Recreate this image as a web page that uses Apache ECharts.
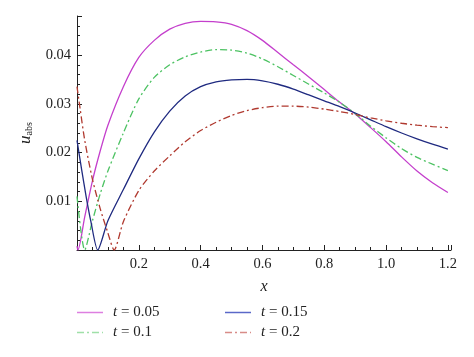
<!DOCTYPE html>
<html>
<head>
<meta charset="utf-8">
<script src="https://cdn.jsdelivr.net/npm/echarts@6/dist/echarts.min.js"></script>
<style>html,body{margin:0;padding:0;background:#fff;}#c{width:474px;height:357px;}</style>
</head>
<body>
<div id="c"></div>
<script>
const seriesNames = ['t = 0.05', 't = 0.1', 't = 0.15', 't = 0.2'];

const x005 = [0, 0.003, 0.025, 0.05, 0.075, 0.1, 0.15, 0.2, 0.25, 0.3, 0.35, 0.4, 0.45, 0.5, 0.55, 0.6, 0.65, 0.7, 0.75, 0.8, 0.85, 0.9, 0.95, 1.0, 1.05, 1.1, 1.15, 1.2];
const y005 = [0.0008, 0, 0.0068, 0.0142, 0.0203, 0.0256, 0.0335, 0.0395, 0.0430, 0.0453, 0.0465, 0.0469, 0.0468, 0.0463, 0.0450, 0.0430, 0.0405, 0.0380, 0.0355, 0.0329, 0.0303, 0.0279, 0.0251, 0.0222, 0.0191, 0.0162, 0.0138, 0.0118];

const x010 = [0, 0.025, 0.05, 0.075, 0.1, 0.15, 0.2, 0.25, 0.3, 0.35, 0.4, 0.45, 0.5, 0.55, 0.6, 0.65, 0.7, 0.75, 0.8, 0.85, 0.9, 0.95, 1.0, 1.05, 1.1, 1.15, 1.2];
const y010 = [0.011, 0, 0.006, 0.0115, 0.0162, 0.0240, 0.0310, 0.0354, 0.0380, 0.0396, 0.0406, 0.0411, 0.0410, 0.0404, 0.0392, 0.0376, 0.0358, 0.0340, 0.0322, 0.0303, 0.0280, 0.0254, 0.0230, 0.0208, 0.0190, 0.0176, 0.0163];

const x015 = [0, 0.015, 0.03, 0.045, 0.067, 0.1, 0.15, 0.2, 0.25, 0.3, 0.35, 0.4, 0.45, 0.5, 0.55, 0.6, 0.65, 0.7, 0.75, 0.8, 0.85, 0.9, 0.95, 1.0, 1.05, 1.1, 1.15, 1.2];
const y015 = [0.0225, 0.0165, 0.0108, 0.0058, 0, 0.0060, 0.0124, 0.0187, 0.0242, 0.0285, 0.0316, 0.0335, 0.0345, 0.0349, 0.0350, 0.0347, 0.0340, 0.0330, 0.0318, 0.0306, 0.0294, 0.0281, 0.0267, 0.0253, 0.0240, 0.0228, 0.0217, 0.0207];

const x020 = [0, 0.01, 0.025, 0.05, 0.075, 0.1, 0.12, 0.15, 0.2, 0.25, 0.3, 0.35, 0.4, 0.45, 0.5, 0.55, 0.6, 0.65, 0.7, 0.75, 0.8, 0.85, 0.9, 0.95, 1.0, 1.05, 1.1, 1.15, 1.2];
const y020 = [0.0335, 0.029, 0.0225, 0.0145, 0.0085, 0.0035, 0, 0.0058, 0.0122, 0.0162, 0.0193, 0.0222, 0.0245, 0.0262, 0.0276, 0.0286, 0.0292, 0.0295, 0.0295, 0.0293, 0.0289, 0.0284, 0.0278, 0.0271, 0.0265, 0.0260, 0.0256, 0.0253, 0.0251];

const seriesX = [x005, x010, x015, x020];
const seriesY = [y005, y010, y015, y020];

const colors = ['#c43fcc', '#4cc262', '#1f2a80', '#b0392f'];
const legendColors = ['#dd7fe0', '#9fe0a8', '#5a68c8', '#d88c88'];
const dashes = ['solid', [7, 3, 2, 3], 'solid', [7, 3, 2, 3]];
const SOLID_ICON = 'path://M0,0h26v1.5h-26z';
const DASHDOT_ICON = 'path://M0,0h7v1.5h-7z M10,0h2v1.5h-2z M15,0h7v1.5h-7z M25,0h1v1.5h-1z';
const legendIcons = [SOLID_ICON, DASHDOT_ICON, SOLID_ICON, DASHDOT_ICON];

const FONT = '"Liberation Serif", "DejaVu Serif", serif';

function zip(xs, ys) { return xs.map((x, i) => [x, ys[i]]); }

const series = seriesNames.map((n, i) => ({
  name: n,
  type: 'line',
  data: zip(seriesX[i], seriesY[i]),
  symbol: 'none',
  showSymbol: false,
  smooth: 0.25,
  lineStyle: { color: colors[i], width: 1.3, type: dashes[i] },
  itemStyle: { color: colors[i] },
  animation: false
}));

const legendRich = {
  i: { fontFamily: FONT, fontStyle: 'italic', fontSize: 15, color: '#222', padding: [0, 0, 0, 5] },
  n: { fontFamily: FONT, fontSize: 15, color: '#222' }
};
function legendFmt(name) { return '{i|t}{n|' + name.slice(1) + '}'; }
function legendItem(i) {
  return { name: seriesNames[i], icon: legendIcons[i], itemStyle: { color: legendColors[i], borderWidth: 0 } };
}

const chart = echarts.init(document.getElementById('c'), null, { renderer: 'canvas' });
chart.setOption({
  backgroundColor: '#fff',
  animation: false,
  grid: { left: 77, top: 16, right: 23, bottom: 107, containLabel: false },
  legend: [
    { data: [legendItem(0), legendItem(1)], orient: 'vertical', left: 72, top: 300, itemWidth: 26, itemHeight: 14, itemGap: 5, symbolKeepAspect: true, formatter: legendFmt, textStyle: { rich: legendRich }, selectedMode: false },
    { data: [legendItem(2), legendItem(3)], orient: 'vertical', left: 220, top: 300, itemWidth: 26, itemHeight: 14, itemGap: 5, symbolKeepAspect: true, formatter: legendFmt, textStyle: { rich: legendRich }, selectedMode: false }
  ],
  xAxis: {
    type: 'value', min: 0, max: 1.21, interval: 0.2,
    name: 'x', nameLocation: 'middle', nameGap: 29,
    nameTextStyle: { fontFamily: FONT, fontStyle: 'italic', fontSize: 16, color: '#222' },
    axisLine: { show: true, onZero: false, lineStyle: { color: '#222', width: 1 } },
    axisTick: { show: true, inside: true, length: 5, lineStyle: { color: '#222' } },
    minorTick: { show: true, splitNumber: 4, length: 3, lineStyle: { color: '#222' } },
    splitLine: { show: false },
    axisLabel: { showMinLabel: false, showMaxLabel: false, fontFamily: FONT, fontSize: 14.5, color: '#222', margin: 7,
      formatter: v => v.toFixed(1) }
  },
  yAxis: {
    type: 'value', min: 0, max: 0.048, interval: 0.01,
    name: '{u|u}{s|abs}', nameLocation: 'middle', nameGap: 31, nameRotate: 90,
    nameTextStyle: { rich: {
      u: { fontFamily: FONT, fontStyle: 'italic', fontSize: 17, color: '#222' },
      s: { fontFamily: FONT, fontSize: 10, color: '#222', padding: [8, 0, 0, 0] }
    } },
    axisLine: { show: true, onZero: false, lineStyle: { color: '#222', width: 1 } },
    axisTick: { show: true, inside: true, length: 5, lineStyle: { color: '#222' } },
    minorTick: { show: true, splitNumber: 5, length: 3, lineStyle: { color: '#222' } },
    splitLine: { show: false },
    axisLabel: { showMinLabel: false, showMaxLabel: false, fontFamily: FONT, fontSize: 14.5, color: '#222', margin: 6,
      formatter: v => v.toFixed(2) }
  },
  series: series
});
</script>
</body>
</html>
